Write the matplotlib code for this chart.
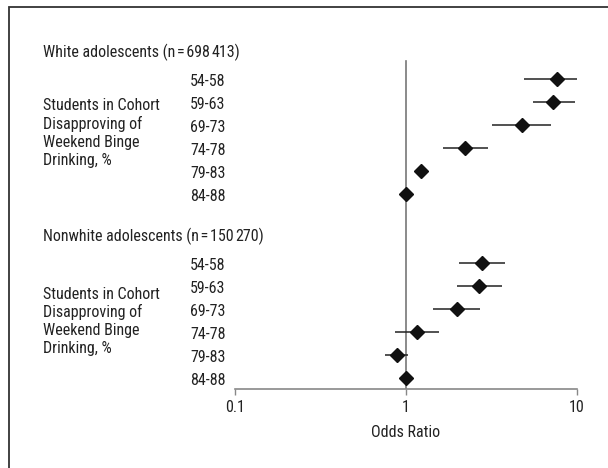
import matplotlib
matplotlib.use("Agg")
import matplotlib.pyplot as plt
import matplotlib.transforms as mtransforms
from matplotlib import font_manager
from matplotlib.patches import Rectangle

# the original uses a condensed grotesque; take the first one we have
installed = {f.name for f in font_manager.fontManager.ttflist}
narrow = [n for n in ["Roboto Condensed", "Archivo Narrow", "PT Sans Narrow",
                      "Fira Sans Condensed", "IBM Plex Sans Condensed",
                      "Sofia Sans Condensed", "Liberation Sans Narrow"]
          if n in installed]
FAMILY = narrow[0] if narrow else "Liberation Sans"
FS = 11.5
plt.rcParams['font.family'] = [FAMILY, 'DejaVu Sans']

# Data (odds ratios with 95% CI)
cohort_labels = ["54-58", "59-63", "69-73", "74-78", "79-83", "84-88"]

white_or = [7.6, 7.2, 4.8, 2.2, 1.22, 1.0]
white_lo = [4.9, 5.5, 3.2, 1.65, 1.16, 1.0]
white_hi = [10.1, 9.8, 7.0, 3.0, 1.29, 1.0]

nonwhite_or = [2.78, 2.67, 1.99, 1.16, 0.88, 1.0]
nonwhite_lo = [2.04, 1.99, 1.44, 0.86, 0.75, 1.0]
nonwhite_hi = [3.79, 3.64, 2.71, 1.55, 1.03, 1.0]

group_titles = ["White adolescents (n=698413)",
                "Nonwhite adolescents (n=150270)"]
side_label = "Students in Cohort\nDisapproving of\nWeekend Binge\nDrinking, %"
x_ticks = [0.1, 1, 10]
x_ticklabels = ["0.1", "1", "10"]

W, H = 608, 468
fig = plt.figure(figsize=(W / 100, H / 100), dpi=100)

# outer frame (runs off the right and bottom edges)
fig.patches.append(Rectangle((9 / W, -0.1), 1.2, (H - 7) / H + 0.1,
                             transform=fig.transFigure, fill=False,
                             edgecolor="#333333", linewidth=1.3))

# axes placed in pixel terms: x 235..577, y 30..389
ax = fig.add_axes([235 / W, (H - 389) / H, 342 / W, (389 - 30) / H])
ax.set_xscale("log")
ax.set_xlim(0.1, 10)
row_px = 23.0
ax.set_ylim(13.5, 13.5 - (389 - 30) / row_px)

groups = [(0, white_or, white_lo, white_hi, 2.37),
          (8, nonwhite_or, nonwhite_lo, nonwhite_hi, 2.55)]

ax.plot([1, 1], [-0.74, 13.5], color="#777777", lw=1.2, zorder=1)

lab_tr = mtransforms.blended_transform_factory(fig.transFigure, ax.transData)
for (start, ors, lo, hi, side_off), title in zip(groups, group_titles):
    ys = [start + i for i in range(len(ors))]
    ax.hlines(ys, lo, hi, color="#222222", lw=1.1, zorder=2)
    ax.plot(ors, ys, linestyle="none", marker="D", ms=7.2,
            color="#111111", zorder=3)
    for y, lab in zip(ys, cohort_labels):
        ax.text(190 / W, y + 0.05, lab, transform=lab_tr, ha="left",
                va="center_baseline", fontsize=FS, color="#222222",
                clip_on=False)
    # title: narrow '=' and a small gap for the thousands separator
    head, num = title.rstrip(")").split("=")
    t = ax.text(43 / W, start - 1.2, head + "\u200a=\u200a" + num[:3],
                transform=lab_tr, ha="left", va="center_baseline",
                fontsize=FS, color="#222222", clip_on=False)
    ax.annotate(num[3:] + ")", xy=(1, 0), xycoords=t, xytext=(1.5, 0),
                textcoords="offset points", va="bottom", ha="left",
                fontsize=FS, color="#222222", annotation_clip=False)
    ax.text(43 / W, start + side_off, side_label, transform=lab_tr,
            ha="left", va="center", fontsize=FS, color="#222222",
            linespacing=1.22, clip_on=False)

for s in ["top", "right", "left"]:
    ax.spines[s].set_visible(False)
ax.spines["bottom"].set_color("#888888")
ax.spines["bottom"].set_linewidth(1.2)
ax.set_yticks([])
ax.set_xticks(x_ticks)
ax.set_xticklabels(x_ticklabels)
ax.minorticks_off()
ax.tick_params(axis="x", direction="out", length=4, width=1.0,
               color="#888888", pad=4, labelsize=FS, labelcolor="#222222")
ax.set_xlabel("Odds Ratio", fontsize=FS, color="#222222", labelpad=7)
ax.patch.set_visible(False)

fig.savefig("out.png", dpi=100)
